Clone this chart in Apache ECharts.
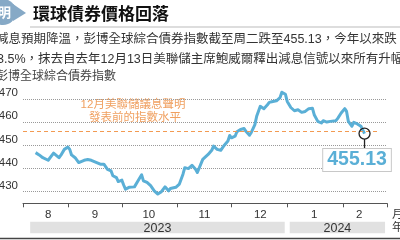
<!DOCTYPE html>
<html><head><meta charset="utf-8">
<script src="https://cdn.jsdelivr.net/npm/echarts@6/dist/echarts.min.js"></script>
<style>html,body{margin:0;padding:0;background:#fff}#c{width:400px;height:240px}</style>
</head><body><div id="c"></div>
<script>
const dates = ['2023-08-14','2023-08-16','2023-08-18','2023-08-19','2023-08-21','2023-08-22','2023-08-24','2023-08-25','2023-08-27','2023-08-28','2023-08-30',
'2023-09-01','2023-09-02','2023-09-03','2023-09-05','2023-09-07','2023-09-08','2023-09-10','2023-09-12','2023-09-14','2023-09-15','2023-09-17','2023-09-19','2023-09-21','2023-09-22','2023-09-23','2023-09-25','2023-09-26','2023-09-28','2023-09-29',
'2023-10-01','2023-10-02','2023-10-03','2023-10-05','2023-10-06','2023-10-08','2023-10-10','2023-10-12','2023-10-13','2023-10-15','2023-10-17','2023-10-19','2023-10-21','2023-10-23','2023-10-25','2023-10-27','2023-10-28','2023-10-29','2023-10-31',
'2023-11-02','2023-11-04','2023-11-05','2023-11-07','2023-11-09','2023-11-11','2023-11-12','2023-11-13','2023-11-15','2023-11-16','2023-11-18','2023-11-20','2023-11-21','2023-11-23','2023-11-25','2023-11-27','2023-11-29','2023-11-30',
'2023-12-01','2023-12-03','2023-12-04','2023-12-06','2023-12-08','2023-12-09','2023-12-11','2023-12-12','2023-12-14','2023-12-15','2023-12-17','2023-12-19','2023-12-21','2023-12-22','2023-12-24','2023-12-26','2023-12-28','2023-12-29','2023-12-31',
'2024-01-01','2024-01-03','2024-01-05','2024-01-07','2024-01-09','2024-01-11','2024-01-13','2024-01-15','2024-01-16','2024-01-18','2024-01-20','2024-01-21','2024-01-23','2024-01-25','2024-01-28','2024-01-29','2024-01-31',
'2024-02-02','2024-02-03','2024-02-04','2024-02-06','2024-02-07','2024-02-09','2024-02-11','2024-02-12','2024-02-13'];
const values = [446.9,445.9,444.7,445.1,443.6,444.3,446.7,446.1,444.7,445.7,448.3,
449.3,448.3,445.9,444.7,442.6,442.6,443.6,443.9,443.6,444.0,442.6,441.9,441.9,442.1,439.7,439.0,436.9,436.1,434.4,
435.0,432.9,431.1,431.9,432.6,432.1,434.7,437.3,434.7,434.0,432.6,430.4,429.0,430.0,432.1,430.4,431.4,432.1,431.9,
433.3,437.6,440.4,440.0,441.4,439.7,438.3,437.8,444.0,444.4,446.1,447.9,449.7,448.3,447.9,450.1,451.9,454.3,
453.3,454.0,455.9,456.9,457.3,456.1,454.4,455.6,459.0,462.6,466.9,465.9,467.6,468.6,469.0,469.3,470.7,473.0,472.1,
469.0,466.4,465.0,465.4,464.3,464.7,465.9,466.1,463.3,460.4,459.7,460.7,460.1,460.4,460.7,461.6,464.0,
465.9,464.7,460.4,458.3,460.0,459.3,458.3,457.6,455.13];
const yTicks = [430, 440, 450, 460, 470];
const monthLabels = ['8','9','10','11','12','1','2'];
const monthLabelDates = ['2023-08-21','2023-09-16','2023-10-16','2023-11-16','2023-12-17','2024-01-16','2024-02-10'];
const yearLabels = ['2023','2024'];
const yearStart = ['2023-08-11','2024-01-01'];
const yearEnd = ['2024-01-01','2024-02-24T10:00'];
const fedLevel = 456.1;
const fedLineStart = '2023-08-07';
const fedLineEnd = '2024-02-21T14:00';
const xMin = '2023-08-07';
const xMax = '2024-02-25T12:00';
const yMin = 425, yMax = 475;

const t = s => new Date(s.length === 10 ? s + 'T00:00:00' : s).getTime();
const DAY = 86400000;
const CJK = '"Liberation Sans","Noto Sans CJK TC",sans-serif';
const lastIdx = values.length - 1;

const chart = echarts.init(document.getElementById('c'), null, {renderer: 'canvas'});
chart.setOption({
  animation: false,
  grid: {left: 23, right: 13, top: 87.6, bottom: 36.7, containLabel: false, outerBoundsMode: 'none'},
  xAxis: {
    type: 'time', min: t(xMin), max: t(xMax),
    minInterval: 28 * DAY, maxInterval: 31 * DAY, splitNumber: 7,
    axisLine: {lineStyle: {color: '#555', width: 1}},
    axisTick: {show: true, length: 4, lineStyle: {color: '#555'}},
    axisLabel: {show: false},
    splitLine: {show: false}
  },
  yAxis: {
    type: 'value', min: yMin, max: yMax,
    axisLine: {show: false},
    axisTick: {show: false, customValues: yTicks},
    axisLabel: {customValues: yTicks, color: '#333', fontSize: 11.5, fontFamily: 'Liberation Sans',
      verticalAlign: 'bottom', lineHeight: 12, margin: 5},
    splitLine: {show: true, lineStyle: {type: 'dotted', color: '#999', width: 1}}
  },
  series: [
    {
      type: 'line', data: dates.map((d, i) => [t(d), values[i]]),
      showSymbol: false, silent: true,
      lineStyle: {color: '#5aafd6', width: 3, join: 'round'},
      markLine: {
        silent: true, symbol: 'none', label: {show: false},
        lineStyle: {type: [4, 3], color: '#f29a52', width: 1.2},
        data: [[{coord: [t(fedLineStart), fedLevel]}, {coord: [t(fedLineEnd), fedLevel]}]]
      },
      markPoint: {
        silent: true,
        data: [
          {coord: [t(dates[lastIdx]), values[lastIdx]], symbol: 'circle', symbolSize: 11,
           itemStyle: {color: 'rgba(0,0,0,0)', borderColor: '#222', borderWidth: 1.3}, label: {show: false}},
          {coord: [t(dates[lastIdx]), values[lastIdx]], symbol: 'rect', symbolSize: [1.3, 11], symbolOffset: [0, 11],
           itemStyle: {color: '#222'},
           label: {show: true, position: 'bottom', distance: -1, offset: [-7.5, 0],
             formatter: values[lastIdx].toFixed(2),
             color: '#5aafd6', fontSize: 19.5, fontWeight: 'bold', fontFamily: 'Liberation Sans',
             lineHeight: 18, backgroundColor: '#fff', borderColor: '#c8c8c8', borderWidth: 1,
             padding: [2, 4, 2, 4]}}
        ]
      }
    },
    {
      type: 'custom', silent: true, z: 10,
      data: monthLabelDates.map(d => [t(d), yMin]), encode: {x: 0, y: 1},
      renderItem: (params, api) => {
        const p = api.coord([api.value(0), api.value(1)]);
        return {type: 'text', x: p[0], y: p[1] + 12,
          style: {text: monthLabels[params.dataIndex], align: 'center', verticalAlign: 'middle',
            fill: '#333', fontSize: 11.5, fontFamily: 'Liberation Sans'}};
      }
    },
    {
      type: 'custom', silent: true, z: 10,
      data: yearStart.map((s, i) => [t(s), t(yearEnd[i]), yMin]), encode: {x: [0, 1], y: 2},
      renderItem: (params, api) => {
        const i = params.dataIndex;
        const a = api.coord([api.value(0), api.value(2)]);
        const b = api.coord([api.value(1), api.value(2)]);
        const x1 = a[0] + (i > 0 ? 2.5 : 0);
        const x2 = b[0] - (i < yearLabels.length - 1 ? 2.5 : 0);
        return {type: 'group', children: [
          {type: 'rect', shape: {x: x1, y: a[1] + 18.4, width: x2 - x1, height: 11.6}, style: {fill: '#e1e1e1'}},
          {type: 'text', x: (x1 + x2) / 2, y: a[1] + 25,
           style: {text: yearLabels[i], align: 'center', verticalAlign: 'middle', fill: '#333',
             fontSize: 12.5, fontFamily: 'Liberation Sans'}}
        ]};
      }
    }
  ],
  graphic: [
    {type: 'circle', shape: {cx: 3, cy: 12, r: 13}, style: {fill: '#86a9c6'}},
    {type: 'polygon', shape: {points: [[13, 4], [26, 13], [13, 21]]}, style: {fill: '#86a9c6'}},
    {type: 'text', x: -2, y: 12, style: {text: '明', fill: '#fff', fontSize: 13, fontWeight: 'bold',
      fontFamily: '"Noto Sans CJK TC"', verticalAlign: 'middle', align: 'left'}},
    {type: 'text', x: 33, y: 14, style: {text: '環球債券價格回落', fill: '#111', fontSize: 17, fontWeight: 'bold',
      fontFamily: '"Noto Sans CJK TC"', verticalAlign: 'middle'}},
    {type: 'line', shape: {x1: 30, y1: 27, x2: 400, y2: 27}, style: {stroke: '#bbb', lineWidth: 1}},
    {type: 'text', x: -4, y: 40, style: {text: '減息預期降溫，彭博全球綜合債券指數截至周二跌至455.13，今年以來跌', fill: '#333',
      fontSize: 12.5, fontFamily: CJK, verticalAlign: 'middle'}},
    {type: 'text', x: -3, y: 60, style: {text: '3.5%，抹去自去年12月13日美聯儲主席鮑威爾釋出減息信號以來所有升幅', fill: '#333',
      fontSize: 12.5, fontFamily: CJK, verticalAlign: 'middle'}},
    {type: 'text', x: -4, y: 77, style: {text: '彭博全球綜合債券指數', fill: '#444', fontSize: 12, fontFamily: CJK, verticalAlign: 'middle'}},
    {type: 'text', x: 133, y: 105, style: {text: '12月美聯儲議息聲明', fill: '#f0a060', fontSize: 11.5, fontFamily: CJK,
      align: 'center', verticalAlign: 'middle'}},
    {type: 'text', x: 135, y: 118, style: {text: '發表前的指數水平', fill: '#f0a060', fontSize: 11.5, fontFamily: CJK,
      align: 'center', verticalAlign: 'middle'}},
    {type: 'text', x: 392, y: 215, style: {text: '月', fill: '#333', fontSize: 11.5, fontFamily: CJK, verticalAlign: 'middle'}},
    {type: 'text', x: 392, y: 228, style: {text: '年', fill: '#333', fontSize: 11.5, fontFamily: CJK, verticalAlign: 'middle'}},
    {type: 'line', shape: {x1: 0, y1: 238.5, x2: 400, y2: 238.5}, style: {stroke: '#444', lineWidth: 1.5}}
  ]
});
</script></body></html>
